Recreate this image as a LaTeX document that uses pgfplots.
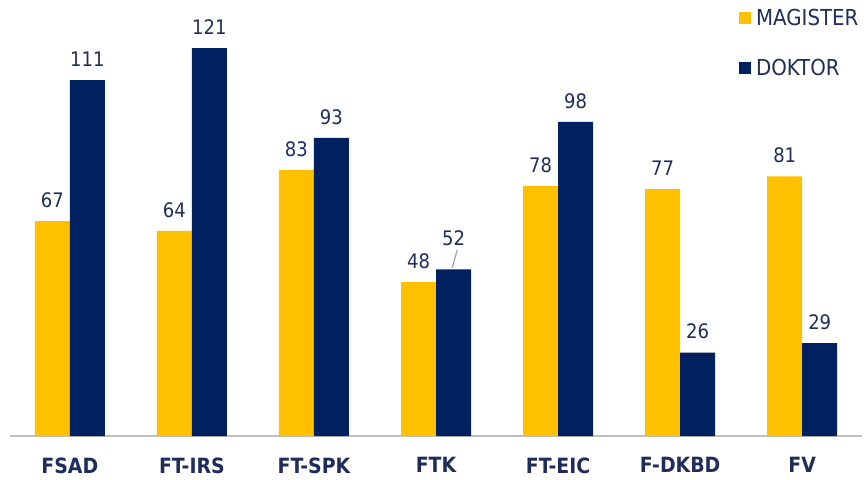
\documentclass[border=0pt]{standalone}
\usepackage{fontspec}
\setmainfont{DejaVu Sans Condensed}
\usepackage{pgfplots}
\usepackage{pgfplotstable}
\pgfplotsset{compat=1.18}
\definecolor{mag}{HTML}{FFC000}
\definecolor{dok}{HTML}{002060}
\definecolor{txt}{HTML}{1F2D5C}

% x = faculty index, y = value, dy = extra lift of the value label
\pgfplotstableread{
x y dy
0 67 0
1 64 0
2 83 0
3 48 0
4 78 0
5 77 0
6 81 0
}\magtab
\pgfplotstableread{
x y dy
0 111 0
1 121 0
2 93 0
3 52 10
4 98 0
5 26 0
6 29 0
}\doktab

\begin{document}
\begin{tikzpicture}
\begin{axis}[at={(10pt,43pt)}, anchor=south west, scale only axis,
  width=852pt, height=436pt, xmin=-0.49, xmax=6.49, ymin=0, ymax=136,
  ybar=0pt, bar width=35pt, axis y line=none, axis x line*=bottom,
  x axis line style={-, draw=black!25, line width=2pt},
  /pgf/number format/assume math mode=true,
  xtick={0,...,6}, xticklabels={FSAD,FT-IRS,FT-SPK,FTK,FT-EIC,F-DKBD,FV},
  major tick length=0pt,
  x tick label style={font=\fontsize{21}{24}\selectfont\bfseries, text=txt,
    yshift=-18pt},
  nodes near coords,
  visualization depends on={\thisrow{dy} \as \dy},
  every node near coord/.append style={font=\fontsize{20}{24}\selectfont,
    text=txt, yshift=10pt+\dy pt},
  legend style={at={(0.852,0.988)}, anchor=north west, draw=none, fill=none,
    font=\fontsize{22}{24}\selectfont, text=txt, row sep=28pt},
  legend cell align=left,
  legend image code/.code={\fill[#1] (0pt,-6pt) rectangle (12pt,6pt);
    \path (15pt,0pt);}]
\addplot[fill=mag, draw=none] table[x=x, y=y] {\magtab};
\addlegendentry{MAGISTER}
\addplot[fill=dok, draw=none] table[x=x, y=y] {\doktab};
\addlegendentry{DOKTOR}
\draw[black!35, line width=1.2pt] (axis cs:3.133,52.5) -- (axis cs:3.174,58);
\end{axis}
\pgfresetboundingbox
\path (0pt,0pt) rectangle (866pt,479pt);
\end{tikzpicture}
\end{document}
